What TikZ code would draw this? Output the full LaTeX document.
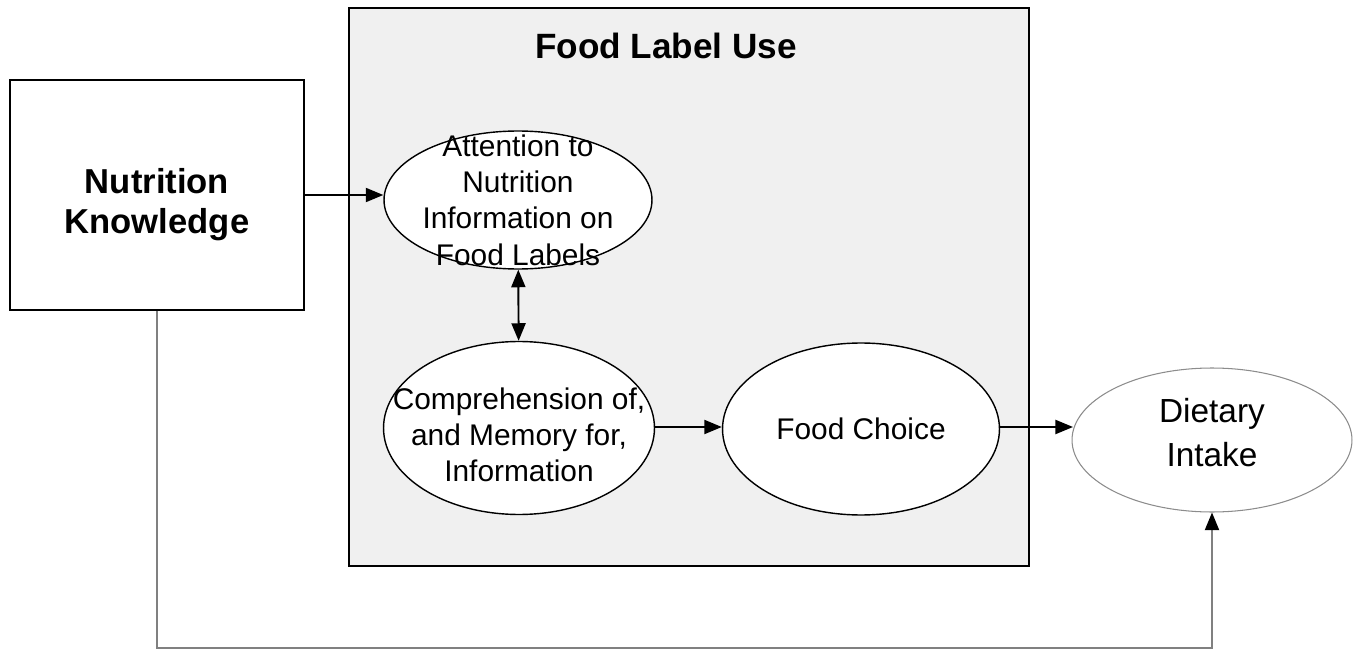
\documentclass[tikz,border=0pt]{standalone}
\usepackage{fontspec}
\setmainfont{Liberation Sans}
\usetikzlibrary{shapes.geometric,arrows.meta}

\tikzset{
	oval/.style={draw, ellipse, fill=white, line width=0.8pt, inner sep=-1cm, align=center, font=\fontsize{17}{20.7}\selectfont},
	>={Triangle[length=10pt,width=8pt]}
}

\begin{document}
\begin{tikzpicture}[x=0.02cm, y=-0.02cm]
		%frame
			\useasboundingbox (0,0) rectangle (1357,652);
			\draw [line width=1.4pt, fill=black!6] (349,8) rectangle (1029,566);
			\node (use) at (666,46) {\fontsize{20}{24}\selectfont\bfseries Food Label Use};
		%nodes
			\node [draw, line width=1pt, minimum width=5.88cm, minimum height=4.6cm, align=center, font=\fontsize{19.7}{22.7}\selectfont\bfseries] (know) at (157,195) {\rule{0pt}{25pt}Nutrition\\Knowledge};
			\node [oval, minimum width=5.36cm, minimum height=2.76cm] (attn) at (518,200) {Attention to\\Nutrition\\Information on\\Food Labels};
			\node [oval, minimum width=5.42cm, minimum height=3.46cm] (comp) at (519,428) {\rule{0pt}{20pt}Comprehension of,\\and Memory for,\\Information};
			\node [oval, minimum width=5.54cm, minimum height=3.44cm] (choice) at (861,429) {Food Choice};
			\node [oval, draw=black!45, line width=0.6pt, minimum width=5.6cm, minimum height=2.88cm, font=\fontsize{19}{25}\selectfont] (intake) at (1212,440) {Dietary\\Intake\rule[-9pt]{0pt}{0pt}};
		%arrows
			\draw [->, line width=1.1pt] (know.east |- 0,195) -- (attn.west |- 0,195);
			\draw [<->, line width=1.1pt] (attn) -- (comp);
			\draw [->, line width=1.1pt] (comp.east |- 0,427) -- (choice.west |- 0,427);
			\draw [->, line width=1.1pt] (choice.east |- 0,427) -- (1073,427);
			\draw [-{Triangle[length=10pt,width=8pt,color=black]}, draw=black!50, line width=1pt] (know.south) -- (157,648) -| (intake.south);
	\end{tikzpicture}
\end{document}
